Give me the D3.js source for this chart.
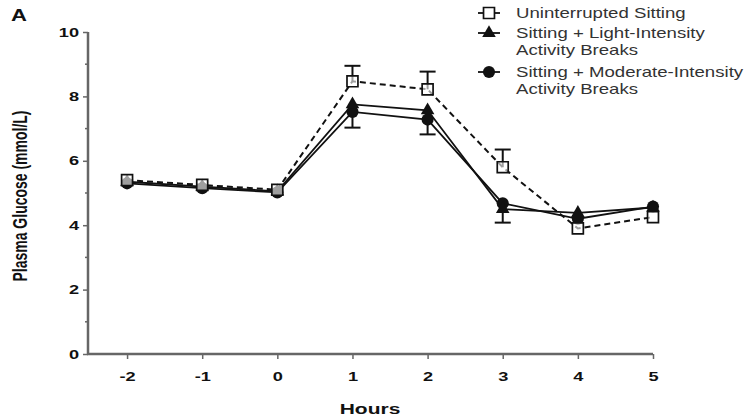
<!DOCTYPE html>
<html>
<head>
<meta charset="utf-8">
<script src="https://cdn.jsdelivr.net/npm/d3@7"></script>
<style>
  body { margin: 0; background: #fff; }
  text { font-family: "Liberation Sans", Arial, sans-serif; }
</style>
</head>
<body>
<script>
// hours and glucose values (mmol/L)
var hours = [-2, -1, 0, 1, 2, 3, 4, 5];
var sitting = [5.4, 5.25, 5.1, 8.47, 8.22, 5.8, 3.9, 4.25];
var light = [5.35, 5.2, 5.05, 7.75, 7.57, 4.5, 4.38, 4.55];
var moderate = [5.3, 5.15, 5.02, 7.52, 7.28, 4.68, 4.2, 4.58];
// error bars: only one side drawn in the figure
var sittingErr = [0, 0, 0, 0.48, 0.55, 0.55, 0, 0];   // upward
var lightErr = [0, 0, 0, 0.72, 0.75, 0.42, 0, 0];     // downward
var yTicks = [0, 2, 4, 6, 8, 10];
var legendLabels = [["Uninterrupted Sitting"], ["Sitting + Light-Intensity", "Activity Breaks"], ["Sitting + Moderate-Intensity", "Activity Breaks"]];

const w = 750, h = 420;
const sx = 1.4; // the figure's text is stretched sideways
const svg = d3.select("body").append("svg").attr("width", w).attr("height", h);

const x = d3.scaleLinear().domain([-2.52, 5]).range([88, 653]);
const y = d3.scaleLinear().domain([0, 10]).range([354, 32]);
const axisCol = "#666";

// y axis
const yAxis = svg.append("g").attr("transform", "translate(88,0)")
  .call(d3.axisLeft(y).tickValues(yTicks).tickSize(5).tickFormat(d => String(d)));
yAxis.select(".domain").attr("stroke", axisCol).attr("stroke-width", 2.5).attr("d", "M0," + y(10) + "V" + (y(0) + 1));
yAxis.selectAll(".tick line").attr("stroke", axisCol).attr("stroke-width", 1.5);
yAxis.selectAll(".tick text").attr("font-size", 13).attr("font-weight", "bold").attr("fill", "#111")
  .attr("x", -9 / sx).attr("transform", "scale(" + sx + ",1)");
// minor ticks
yAxis.selectAll(".minor").data([1, 3, 5, 7, 9]).enter().append("line")
  .attr("x1", -3).attr("x2", 0).attr("y1", d => y(d)).attr("y2", d => y(d))
  .attr("stroke", axisCol).attr("stroke-width", 1.5);

// x axis
const xAxis = svg.append("g").attr("transform", "translate(0,354)")
  .call(d3.axisBottom(x).tickValues(hours).tickSize(5).tickPadding(13).tickFormat(d => String(d)));
xAxis.select(".domain").attr("stroke", axisCol).attr("stroke-width", 2.5).attr("d", "M87,0H" + x(5));
xAxis.selectAll(".tick line").attr("stroke", axisCol).attr("stroke-width", 1.5);
xAxis.selectAll(".tick text").attr("font-size", 13).attr("font-weight", "bold").attr("fill", "#111")
  .attr("transform", "scale(" + sx + ",1)");

// axis titles
svg.append("text").attr("transform", "translate(370,414) scale(" + sx + ",1)").attr("text-anchor", "middle")
  .attr("font-size", 15).attr("font-weight", "bold").attr("fill", "#111").text("Hours");
svg.append("text").attr("transform", "translate(27,196) rotate(-90) scale(1," + sx + ")").attr("text-anchor", "middle")
  .attr("font-size", 14).attr("font-weight", "bold").attr("fill", "#111").text("Plasma Glucose (mmol/L)");
svg.append("text").attr("transform", "translate(11,21) scale(1.3,1)").attr("font-size", 17).attr("font-weight", "bold").attr("fill", "#111").text("A");

const line = d3.line().x((d, i) => x(hours[i])).y(d => y(d));

// error bars
function errBars(vals, errs, dir) {
  hours.forEach(function(hr, i) {
    if (!errs[i]) return;
    var y0 = y(vals[i]), y1 = y(vals[i] + dir * errs[i]);
    svg.append("line").attr("x1", x(hr)).attr("x2", x(hr)).attr("y1", y0).attr("y2", y1).attr("stroke", "#111").attr("stroke-width", 2);
    svg.append("line").attr("x1", x(hr) - 8).attr("x2", x(hr) + 8).attr("y1", y1).attr("y2", y1).attr("stroke", "#111").attr("stroke-width", 2);
  });
}
errBars(sitting, sittingErr, 1);
errBars(light, lightErr, -1);

// lines
svg.append("path").datum(moderate).attr("d", line).attr("fill", "none").attr("stroke", "#111").attr("stroke-width", 1.8);
svg.append("path").datum(light).attr("d", line).attr("fill", "none").attr("stroke", "#111").attr("stroke-width", 1.8);
svg.append("path").datum(sitting).attr("d", line).attr("fill", "none").attr("stroke", "#111").attr("stroke-width", 2).attr("stroke-dasharray", "6,4");

const sq = d3.symbol().type(d3.symbolSquare).size(120);
const tri = d3.symbol().type(d3.symbolTriangle).size(80);
const circ = d3.symbol().type(d3.symbolCircle).size(115);

svg.selectAll(".mod").data(moderate).enter().append("path")
  .attr("transform", (d, i) => "translate(" + x(hours[i]) + "," + y(d) + ")")
  .attr("d", circ).attr("fill", "#111");
svg.selectAll(".lig").data(light).enter().append("path")
  .attr("transform", (d, i) => "translate(" + x(hours[i]) + "," + y(d) + ")")
  .attr("d", tri).attr("fill", "#111");
svg.selectAll(".sit").data(sitting).enter().append("path")
  .attr("transform", (d, i) => "translate(" + x(hours[i]) + "," + y(d) + ")")
  .attr("d", sq).attr("fill", "#fff").attr("fill-opacity", 0.6).attr("stroke", "#111").attr("stroke-width", 1.7);

// legend
const legY = [13, 33, 72];
const leg = svg.append("g");
leg.append("line").attr("x1", 478).attr("x2", 500).attr("y1", legY[0]).attr("y2", legY[0]).attr("stroke", "#111").attr("stroke-width", 1.8);
leg.append("path").attr("transform", "translate(489," + legY[0] + ")").attr("d", sq).attr("fill", "#fff").attr("stroke", "#111").attr("stroke-width", 1.7);
leg.append("line").attr("x1", 478).attr("x2", 500).attr("y1", legY[1]).attr("y2", legY[1]).attr("stroke", "#111").attr("stroke-width", 1.8);
leg.append("path").attr("transform", "translate(489," + legY[1] + ")").attr("d", tri).attr("fill", "#111");
leg.append("line").attr("x1", 478).attr("x2", 500).attr("y1", legY[2]).attr("y2", legY[2]).attr("stroke", "#111").attr("stroke-width", 1.8);
leg.append("path").attr("transform", "translate(489," + legY[2] + ")").attr("d", circ).attr("fill", "#111");
legendLabels.forEach(function(lines, i) {
  lines.forEach(function(t, j) {
    leg.append("text").attr("transform", "translate(516," + (legY[i] + 5 + j * 16.5) + ") scale(1.33,1)")
      .attr("font-size", 14).attr("fill", "#333").text(t);
  });
});
</script>
</body>
</html>
